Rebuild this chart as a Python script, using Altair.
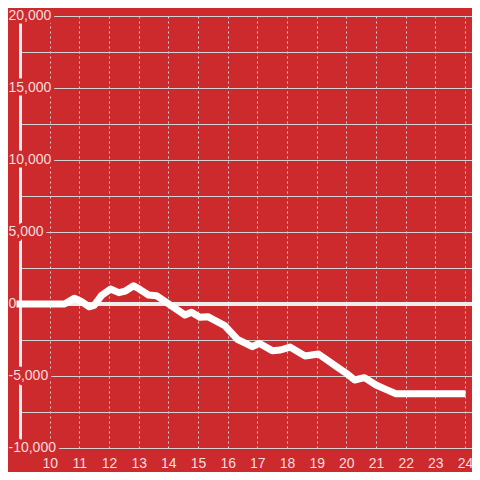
import altair as alt
import pandas as pd

# ---- data ----
hours = [9.0, 10.5, 10.83, 11.05, 11.33, 11.5, 11.75, 12.05, 12.33, 12.55, 12.83,
         13.05, 13.33, 13.6, 14.56, 14.78, 15.06, 15.33, 15.9, 16.33, 16.83, 17.06,
         17.5, 17.78, 18.1, 18.61, 19.06, 19.67, 20.0, 20.28, 20.61, 21.0, 21.33,
         21.67, 23.9]
values = [0, 0, 400, 200, -190, -100, 600, 1040, 790, 900, 1270,
          1000, 625, 580, -764, -580, -926, -880, -1500, -2450, -2963, -2730,
          -3240, -3194, -2990, -3611, -3472, -4352, -4815, -5278, -5115, -5625, -5926,
          -6230, -6230]
x_ticks = list(range(10, 25))
y_grid = list(range(-10000, 20001, 2500))
y_label_vals = [-10000, -5000, 0, 5000, 10000, 15000, 20000]
y_label_text = ["-10,000", "-5,000", "0", "5,000", "10,000", "15,000", "20,000"]

BG = "#cd2a2e"
GRID = "#d6d0d0"
LABEL = "#f5dede"
FONT = "Liberation Sans"

line_df = pd.DataFrame({"hour": hours, "value": values})
labels_df = pd.DataFrame({"v": y_label_vals, "text": y_label_text})

xscale = alt.Scale(domain=[9, 24.236], nice=False, zero=False)
yscale = alt.Scale(domain=[-10000, 20000], nice=False, zero=False)
xaxis = alt.Axis(values=x_ticks, title=None, grid=True, gridDash=[2, 3],
                 gridColor=GRID, gridWidth=1, domain=False, ticks=False,
                 labelColor=LABEL, labelFontSize=14, labelFont=FONT,
                 labelPadding=8, labelFlush=False, labelOverlap=False)
yaxis = alt.Axis(values=y_grid, title=None, grid=True, gridColor=GRID,
                 gridWidth=1, domain=True, domainColor="#eeeeee",
                 domainWidth=3, ticks=False, labels=False)

base_line = alt.Chart(line_df).mark_line(
    color="#ffffff", strokeWidth=7, strokeCap="square", strokeJoin="round"
).encode(
    x=alt.X("hour:Q", scale=xscale, axis=xaxis),
    y=alt.Y("value:Q", scale=yscale, axis=yaxis),
)

halo = alt.Chart(labels_df).mark_text(
    align="left", baseline="middle", dx=-11.5, fontSize=14, font=FONT,
    fill=BG, stroke=BG, strokeWidth=7, strokeJoin="round"
).encode(
    x=alt.X(datum=9, scale=xscale, axis=xaxis),
    y=alt.Y("v:Q", scale=yscale, axis=yaxis),
    text="text:N",
)

label_text = alt.Chart(labels_df).mark_text(
    align="left", baseline="middle", dx=-11.5, fontSize=14, font=FONT,
    fill=LABEL
).encode(
    x=alt.X(datum=9, scale=xscale, axis=xaxis),
    y=alt.Y("v:Q", scale=yscale, axis=yaxis),
    text="text:N",
)

zero_rule = alt.Chart(line_df).mark_rule(color="#eeeeee", strokeWidth=3).encode(
    y=alt.Y(datum=0, scale=yscale, axis=yaxis),
)

chart = alt.layer(halo, label_text, zero_rule, base_line).properties(
    width=452, height=432,
    autosize=alt.AutoSizeParams(type="none"),
    padding={"left": 12, "top": 8, "right": 0, "bottom": 24},
    background=BG,
).configure_view(strokeWidth=0)

chart.save("out.html", embed_options={"renderer": "svg", "actions": False})
